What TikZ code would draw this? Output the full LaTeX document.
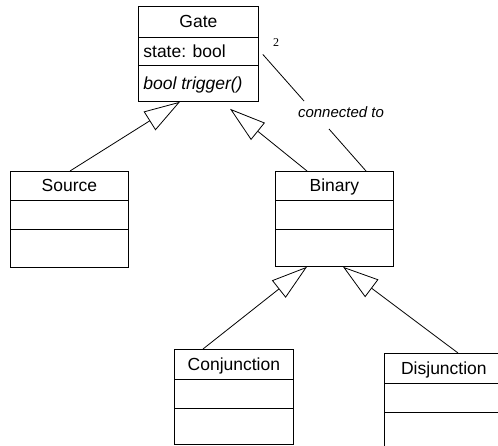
\documentclass[tikz,border=0pt]{standalone}
\usepackage{fontspec}
\setmainfont{Liberation Sans}
\newfontfamily\numfont{Liberation Serif}
\usetikzlibrary{arrows.meta,calc}
\begin{document}
\begin{tikzpicture}[x=1pt,y=-1pt,
  line width=0.8pt,
  classbox/.style={draw, anchor=north west, inner sep=0pt, minimum width=#1, minimum height=95pt},
  classbox/.default=119pt,
  ctext/.style={inner sep=0pt, text height=12.6pt, text depth=0pt, font=\fontsize{17.5}{20}\selectfont},
  inherit/.style={-{Triangle[open, length=36pt, width=22pt]}},
  assoc/.style={draw},
  lbl/.style={inner sep=0pt, font=\fontsize{15}{18}\selectfont\itshape},
  mult/.style={inner sep=0pt, font=\fontsize{12}{14}\numfont}
]
\useasboundingbox (0,0) rectangle (498,446);
\clip (0,0) rectangle (498,446);

% Gate
\node[classbox=120pt] (gate) at (138,6) {};
\draw ($(gate.north west)+(0,31)$) -- ($(gate.north east)+(0,31)$);
\draw ($(gate.north west)+(0,59)$) -- ($(gate.north east)+(0,59)$);
\node[ctext] (gatet) at ($(gate.north)+(0,15.5)$) {Gate};
\node[ctext, anchor=west] (gatea) at ($(gate.north west)+(5,45)$) {state: bool};
\node[ctext, anchor=west, font=\fontsize{17.5}{20}\selectfont\itshape] (gateo) at ($(gate.north west)+(5,77)$) {bool trigger()};

% Source
\node[classbox=118pt, minimum height=96pt] (source) at (10,171) {};
\draw ($(source.north west)+(0,29)$) -- ($(source.north east)+(0,29)$);
\draw ($(source.north west)+(0,58)$) -- ($(source.north east)+(0,58)$);
\node[ctext] (sourcet) at ($(source.north)+(0,14.5)$) {Source};

% Binary
\node[classbox=118pt] (binary) at (275,171) {};
\draw ($(binary.north west)+(0,29)$) -- ($(binary.north east)+(0,29)$);
\draw ($(binary.north west)+(0,58)$) -- ($(binary.north east)+(0,58)$);
\node[ctext] (binaryt) at ($(binary.north)+(0,14.5)$) {Binary};

% Conjunction
\node[classbox=119pt] (conj) at (174,349) {};
\draw ($(conj.north west)+(0,30)$) -- ($(conj.north east)+(0,30)$);
\draw ($(conj.north west)+(0,59)$) -- ($(conj.north east)+(0,59)$);
\node[ctext] (conjt) at ($(conj.north)+(0,15)$) {Conjunction};

% Disjunction
\node[classbox=119pt] (disj) at (384,353) {};
\draw ($(disj.north west)+(0,30)$) -- ($(disj.north east)+(0,30)$);
\draw ($(disj.north west)+(0,59)$) -- ($(disj.north east)+(0,59)$);
\node[ctext] (disjt) at ($(disj.north)+(0,15)$) {Disjunction};

% Generalisations
\draw[inherit] ($(source.north west)+(60,0)$) -- ($(gate.south west)+(42,0)$);
\draw[inherit] ($(binary.north west)+(32,0)$) -- ($(gate.south west)+(92,7)$);
\draw[inherit] ($(conj.north west)+(29,0)$) -- ($(binary.south west)+(32,0)$);
\draw[inherit] ($(disj.north west)+(74,0)$) -- ($(binary.south west)+(68,0)$);

% Association
\coordinate (a1) at ($(gate.east)+(4,0.5)$);
\coordinate (a2) at (304,101);
\coordinate (a3) at (329,129);
\draw (a1) -- (a2);
\draw (a3) -- ($(binary.north west)+(91,0)$);
\node[lbl] (assoclbl) at (341,112) {connected to};
\node[mult] (multtwo) at (276,43) {2};
\end{tikzpicture}
\end{document}
